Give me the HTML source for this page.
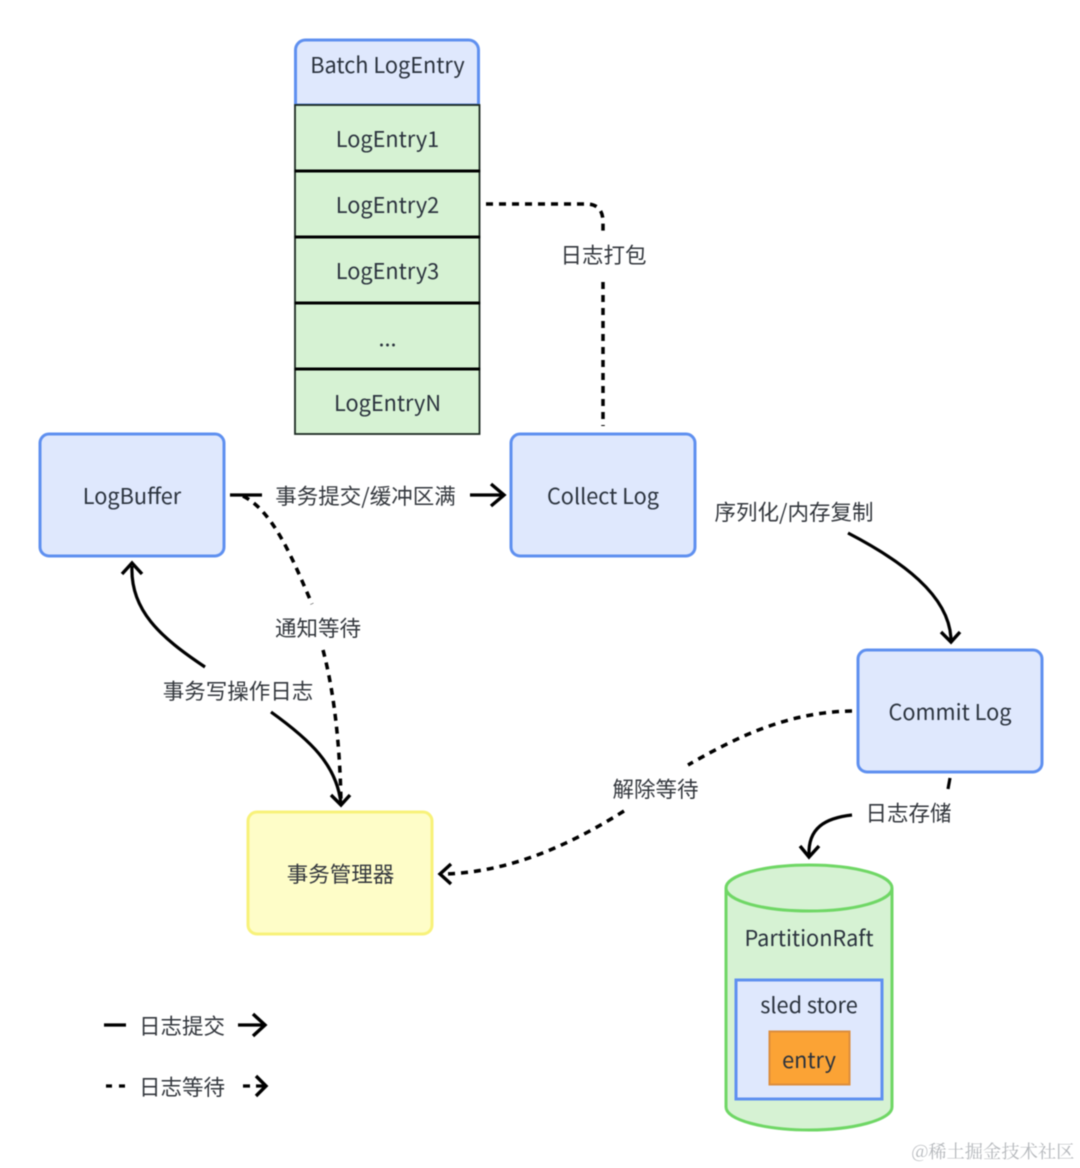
<!DOCTYPE html>
<html><head><meta charset="utf-8"><style>
html,body{margin:0;padding:0;background:#fff}
svg{display:block;filter:blur(.5px)}
text{font-family:"Noto Sans CJK SC","Liberation Sans",sans-serif;font-size:21.7px;fill:#2a323d;text-anchor:middle}
.z{font-size:21.5px;fill:#33373d}
.c{fill:none;stroke:#000;stroke-width:3.2}
.d{fill:none;stroke:#000;stroke-width:3.5;stroke-dasharray:7 6}
.a{fill:none;stroke:#000;stroke-width:3.4}
</style></head><body>
<svg width="1080" height="1168" viewBox="0 0 1080 1168" xmlns="http://www.w3.org/2000/svg">
<rect width="1080" height="1168" fill="#fff"/>
<path d="M295.500 105V50a10 10 0 0 1 10-10h163a10 10 0 0 1 10 10v55z" fill="#dfe8fd" stroke="#5f90f0" stroke-width="3"/>
<g fill="#d6f2d3" stroke="#1c2a22" stroke-width="1.800">
<rect x="295" y="105" width="184.500" height="66"/>
<rect x="295" y="171" width="184.500" height="66"/>
<rect x="295" y="237" width="184.500" height="66"/>
<rect x="295" y="303" width="184.500" height="66"/>
<rect x="295" y="369" width="184.500" height="65"/>
</g>
<path d="M295 171H480M295 237H480M295 303H480M295 369H480" stroke="#000" stroke-width="3" fill="none"/>
<text x="387.500" y="73">Batch LogEntry</text>
<text x="387.500" y="147">LogEntry1</text>
<text x="387.500" y="213">LogEntry2</text>
<text x="387.500" y="279">LogEntry3</text>
<text x="387.500" y="346">...</text>
<text x="387.500" y="411">LogEntryN</text>

<g fill="#dfe8fd" stroke="#5f90f0" stroke-width="3">
<rect x="40" y="434" width="184" height="122" rx="9"/>
<rect x="511" y="434" width="184" height="122" rx="9"/>
<rect x="858" y="650" width="184" height="122" rx="9"/>
</g>
<rect x="248" y="812" width="184" height="122" rx="9" fill="#fefdc8" stroke="#f8f27a" stroke-width="3"/>
<text x="132" y="504">LogBuffer</text>
<text x="603" y="504">Collect Log</text>
<text x="950" y="720">Commit Log</text>
<text x="340.500" y="882" class="z">事务管理器</text>

<path d="M486 204H586Q603 204 603 222V232" class="d"/>
<path d="M603 282V426" class="d"/>
<text x="603.500" y="263" class="z">日志打包</text>

<path d="M230 495H262" class="c"/>
<path d="M470 495H504" class="c"/>
<path d="M491 484L504 495L491 506" class="a"/>
<text x="365.500" y="504" class="z">事务提交/缓冲区满</text>

<path d="M243 496C275 512 295 565 312 604" class="d"/>
<path d="M323 650C335 695 340 750 341 802" class="d"/>
<text x="318" y="636" class="z">通知等待</text>

<path d="M205 667C160 637 130 610 132 566" class="c"/>
<path d="M122 574L132 563L142 574" class="a"/>
<path d="M271 712C310 740 337 765 341 804" class="c"/>
<path d="M331 795L341 805L350 795" class="a"/>
<text x="238" y="699" class="z">事务写操作日志</text>

<path d="M848 533C900 560 950 595 951 640" class="c"/>
<path d="M941 632L951 642L960 632" class="a"/>
<text x="794" y="520" class="z">序列化/内存复制</text>

<path d="M852 711C790 712 740 735 688 765" class="d"/>
<path d="M624 811C570 845 510 872 445 874" class="d"/>
<path d="M451 864L440 874L451 884" class="a"/>
<text x="655.500" y="797" class="z">解除等待</text>

<path d="M950 778L948 789" class="c"/>
<path d="M852 815C825 818 808 828 809 855" class="c"/>
<path d="M800 846L809 857L819 846" class="a"/>
<text x="908.500" y="821" class="z">日志存储</text>

<path d="M726 888V1107C726 1120 765 1130 809 1130S892 1120 892 1107V888" fill="#d6f2d3" stroke="#6fd765" stroke-width="3"/>
<ellipse cx="809" cy="888" rx="83" ry="23" fill="#d6f2d3" stroke="#6fd765" stroke-width="3"/>
<text x="809" y="946">PartitionRaft</text>
<rect x="736" y="980" width="146" height="119" fill="#dfe8fd" stroke="#5f90f0" stroke-width="3"/>
<text x="809" y="1013">sled store</text>
<rect x="769.500" y="1031.500" width="80" height="53" fill="#fba335" stroke="#dd8d3c" stroke-width="2"/>
<text x="809" y="1068">entry</text>

<path d="M104 1025H126" class="c"/>
<path d="M238 1025H264" class="c"/>
<path d="M253 1014L265 1025L253 1036" class="a"/>
<text x="182" y="1034" class="z">日志提交</text>
<path d="M106 1086H125" fill="none" stroke="#000" stroke-width="3.2" stroke-dasharray="6 7"/>
<path d="M243 1086H250M256 1086H264" fill="none" stroke="#000" stroke-width="3.2"/>
<path d="M256 1076L266 1086L256 1096" class="a"/>
<text x="182" y="1095" class="z">日志等待</text>

<text x="993" y="1158" style="font-family:'Noto Serif CJK SC','Noto Sans CJK SC',serif;font-size:18.300px;fill:#b4b7bb">@稀土掘金技术社区</text>
</svg>
</body></html>
